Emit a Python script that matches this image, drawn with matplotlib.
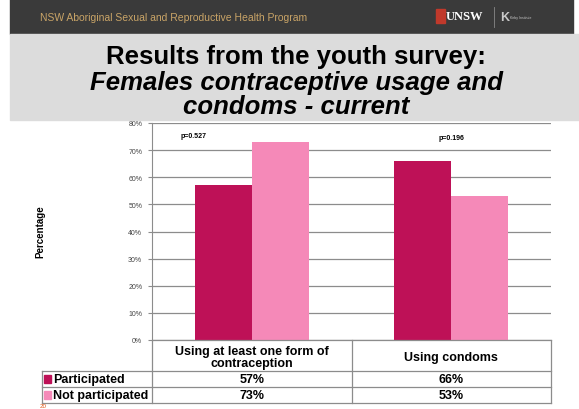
import matplotlib.pyplot as plt
import numpy as np
from matplotlib.patches import Rectangle

plt.rcParams['font.family'] = ['Liberation Sans', 'DejaVu Sans']

# survey results (percent)
categories = ["Using at least one form of\ncontraception", "Using condoms"]
series_names = ["Participated", "Not participated"]
participated = [57, 66]
not_participated = [73, 53]
p_values = ["p=0.527", "p=0.196"]
y_ticks = [0, 10, 20, 30, 40, 50, 60, 70, 80]

colors = ["#BE1157", "#F589B8"]

W, H = 579, 410
fig = plt.figure(figsize=(W / 100, H / 100), dpi=100)


def fx(px):
    return px / W


def fy(py):
    return 1 - py / H


# header bar and title box
fig.patches.append(Rectangle((fx(10), fy(35)), fx(563), 35 / H, transform=fig.transFigure,
                             color="#3a3a3a", zorder=0))
fig.patches.append(Rectangle((fx(10), fy(121)), fx(569), 86 / H, transform=fig.transFigure,
                             color="#dcdcdc", zorder=0))
fig.text(fx(40), fy(18), "NSW Aboriginal Sexual and Reproductive Health Program",
         color="#c9a467", fontsize=7.5, va="center")
fig.patches.append(Rectangle((fx(436), fy(24)), fx(9), 14 / H, transform=fig.transFigure,
                             color="#c0392b", zorder=1))
fig.text(fx(446), fy(17), "UNSW", color="white", fontsize=9, fontweight="bold",
         va="center", family="Liberation Serif")
fig.lines.append(plt.Line2D([fx(494), fx(494)], [fy(8), fy(28)], transform=fig.transFigure,
                            color="#888888", lw=0.6))
fig.text(fx(500), fy(18), "K", color="#c8c8c8", fontsize=9, fontweight="bold", va="center")
fig.text(fx(510), fy(18), "Kirby Institute", color="#c8c8c8", fontsize=2.5, va="center")

tx = fx(296)
fig.text(tx, fy(57), "Results from the youth survey:", ha="center", va="center",
         fontsize=18.5, fontweight="bold")
fig.text(tx, fy(83), "Females contraceptive usage and", ha="center", va="center",
         fontsize=18.5, fontweight="bold", style="italic")
fig.text(tx, fy(107), "condoms - current", ha="center", va="center",
         fontsize=18.5, fontweight="bold", style="italic")

# bar chart
ax = fig.add_axes([fx(152), fy(341), fx(551 - 152), (341 - 124) / H])
x = np.arange(len(categories))
w = 0.285
ax.bar(x - w / 2, participated, w, color=colors[0], zorder=3)
ax.bar(x + w / 2, not_participated, w, color=colors[1], zorder=3)
ax.set_xlim(-0.5, 1.5)
ax.set_ylim(0, 80)
ax.set_yticks(y_ticks)
ax.set_yticklabels([f"{t}%" for t in y_ticks], fontsize=5, color="#444444")
ax.set_xticks([])
ax.yaxis.grid(True, color="#8c8c8c", lw=0.9, zorder=0)
for s in ["top", "right", "bottom"]:
    ax.spines[s].set_visible(False)
ax.spines["left"].set_color("#8c8c8c")
ax.tick_params(axis="y", length=3, color="#8c8c8c", pad=4)

p_y = [75.5, 74.5]
for i, p in enumerate(p_values):
    off = -0.29 if i == 0 else 0
    ax.text(x[i] + off, p_y[i], p, ha="center", va="center", fontsize=5, fontweight="bold")

fig.text(fx(40), fy(232), "Percentage", rotation=90, ha="center", va="center",
         fontsize=7, fontweight="bold")

# data table below the axes
line_kw = dict(transform=fig.transFigure, color="#8c8c8c", lw=0.9)
rows_y = [341, 372, 388, 404]
L, M, R, LG = 152, 351.5, 551, 42
for yy in rows_y:
    x0 = L if yy == rows_y[0] else LG
    fig.lines.append(plt.Line2D([fx(x0), fx(R)], [fy(yy), fy(yy)], **line_kw))
for xx, y0 in [(L, 341), (M, 341), (R, 341), (LG, 372)]:
    fig.lines.append(plt.Line2D([fx(xx), fx(xx)], [fy(y0), fy(404)], **line_kw))

for i, cat in enumerate(categories):
    cx = (L + M) / 2 if i == 0 else (M + R) / 2
    fig.text(fx(cx), fy(358), cat, ha="center", va="center", fontsize=9,
             fontweight="bold", linespacing=1.0)
    for j, vals in enumerate([participated, not_participated]):
        fig.text(fx(cx), fy((rows_y[j + 1] + rows_y[j + 2]) / 2 + 0.5), f"{vals[i]}%",
                 ha="center", va="center", fontsize=9, fontweight="bold")

for j, name in enumerate(series_names):
    yc = (rows_y[j + 1] + rows_y[j + 2]) / 2
    fig.patches.append(Rectangle((fx(44), fy(yc + 4)), fx(7), 8 / H,
                                 transform=fig.transFigure, color=colors[j]))
    fig.text(fx(53), fy(yc + 0.5), name, ha="left", va="center", fontsize=9,
             fontweight="bold")

fig.text(fx(40), fy(409.5), "20", color="#e05a1a", fontsize=4.5, va="bottom")

fig.savefig("out.png", dpi=100)
